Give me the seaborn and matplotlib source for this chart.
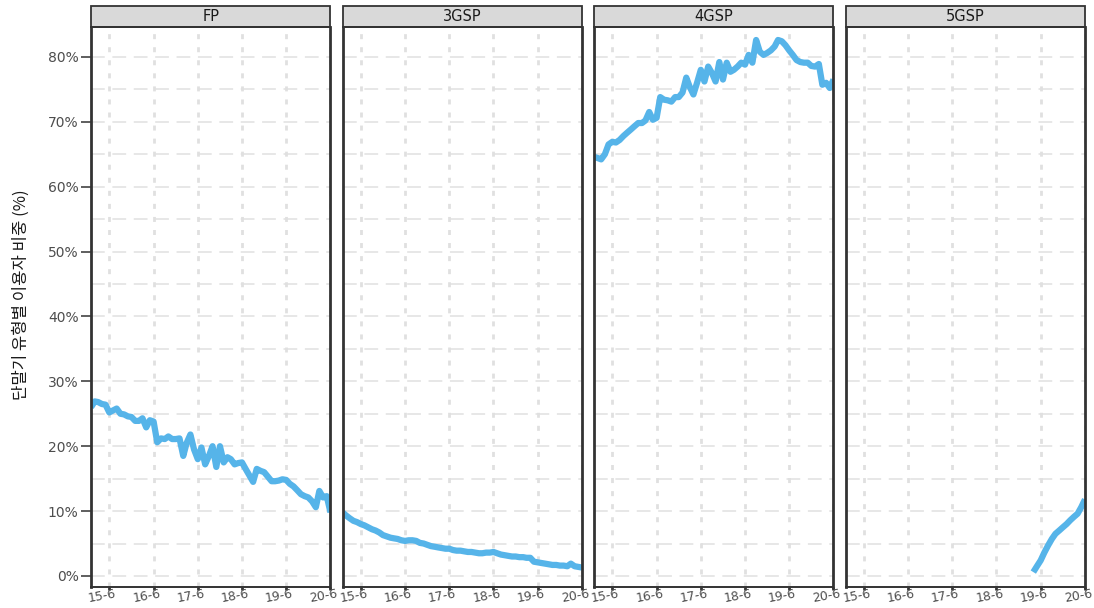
import numpy as np
import pandas as pd
import matplotlib
matplotlib.use("Agg")
import matplotlib.pyplot as plt
import matplotlib.transforms as mtrans
from matplotlib.patches import Rectangle
from matplotlib.ticker import MultipleLocator, FuncFormatter
import seaborn as sns

# ---------------- data ----------------
months = pd.date_range("2015-01-01", "2020-06-01", freq="MS")

fp = [26.0, 26.9, 26.8, 26.5, 26.4, 25.2, 25.5, 25.8, 25.0, 24.9, 24.6, 24.5,
      23.9, 23.9, 24.3, 22.9, 24.0, 23.8, 20.6, 21.2, 21.1, 21.5, 21.1, 21.1,
      21.2, 18.5, 20.5, 21.8, 19.5, 18.0, 19.8, 17.2, 18.5, 20.0, 16.8, 20.0,
      17.5, 18.3, 18.0, 17.2, 17.4, 17.5, 16.5, 15.5, 14.5, 16.5, 16.2, 16.0,
      15.3, 14.6, 14.6, 14.7, 14.9, 14.8, 14.2, 13.8, 13.2, 12.6, 12.3, 12.1,
      11.5, 10.6, 13.1, 12.1, 12.3, 9.8]

g3 = [9.8, 9.3, 8.9, 8.5, 8.3, 8.0, 7.8, 7.5, 7.2, 7.0, 6.7, 6.3,
      6.1, 5.9, 5.8, 5.7, 5.5, 5.4, 5.5, 5.5, 5.4, 5.1, 5.0, 4.8,
      4.6, 4.5, 4.4, 4.3, 4.2, 4.2, 4.0, 3.9, 3.9, 3.8, 3.7, 3.7,
      3.6, 3.5, 3.5, 3.6, 3.6, 3.7, 3.5, 3.3, 3.2, 3.1, 3.0, 3.0,
      2.9, 2.9, 2.8, 2.8, 2.2, 2.1, 2.0, 1.9, 1.8, 1.7, 1.7, 1.6,
      1.6, 1.5, 1.9, 1.5, 1.4, 1.3]

g4 = [64.6, 64.4, 64.2, 65.0, 66.5, 66.9, 66.8, 67.2, 67.8, 68.3, 68.8, 69.3,
      69.8, 69.8, 70.2, 71.5, 70.3, 70.6, 73.8, 73.4, 73.3, 73.1, 73.8, 73.8,
      74.5, 76.8, 75.4, 74.2, 76.0, 78.0, 76.2, 78.5, 77.5, 76.2, 79.2, 76.5,
      79.1, 77.7, 78.0, 78.5, 79.1, 78.8, 80.3, 79.1, 82.6, 80.8, 80.3, 80.6,
      81.0, 81.6, 82.6, 82.4, 81.8, 81.0, 80.3, 79.5, 79.2, 79.1, 79.1, 78.6,
      78.5, 78.9, 75.7, 76.0, 75.2, 76.5]

g5_months = pd.date_range("2019-04-01", "2020-06-01", freq="MS")
g5 = [0.6, 1.5, 2.4, 3.6, 4.7, 5.7, 6.5, 7.0, 7.5, 8.0, 8.6, 9.1, 9.6, 10.6, 11.8]

types = ["FP", "3GSP", "4GSP", "5GSP"]
x_tick_dates = pd.to_datetime(["2015-06-01", "2016-06-01", "2017-06-01",
                               "2018-06-01", "2019-06-01", "2020-06-01"])
x_tick_labels = ["15-6", "16-6", "17-6", "18-6", "19-6", "20-6"]
y_ticks = [0, 10, 20, 30, 40, 50, 60, 70, 80]
y_label = "단말기 유형별 이용자 비중 (%)"

df = pd.concat([
    pd.DataFrame({"date": months, "share": fp, "type": "FP"}),
    pd.DataFrame({"date": months, "share": g3, "type": "3GSP"}),
    pd.DataFrame({"date": months, "share": g4, "type": "4GSP"}),
    pd.DataFrame({"date": g5_months, "share": g5, "type": "5GSP"}),
], ignore_index=True)

# ---------------- style ----------------
sns.set_theme(style="white")
plt.rcParams["font.family"] = ["DejaVu Sans"]

W, H = 1094, 608
g = sns.relplot(data=df, x="date", y="share", col="type", col_order=types,
                kind="line", color="#56B4E9", linewidth=4.5,
                height=5, aspect=0.5,
                facet_kws=dict(sharex=True, sharey=True))
fig = g.figure
fig.set_size_inches(W / 100, H / 100)
fig.subplots_adjust(left=91 / W, right=1085 / W, top=1 - 27 / H,
                    bottom=1 - 587 / H, wspace=12 / 239)
g.set_titles("")
g.set_axis_labels("", "")

panel_h = 587 - 27
ygrid_kw = dict(color="#E0E0E0", linewidth=1.1, linestyle=(0, (9, 5)))
xgrid_kw = dict(color="#E0E0E0", linewidth=2.0, linestyle=(0, (1.8, 2.9)))

for i, (ax, name) in enumerate(zip(g.axes.flat, types)):
    for ln in ax.get_lines():
        ln.set_solid_capstyle("butt")
        ln.set_solid_joinstyle("round")
    ax.set_xlim(months[0], months[-1])
    ax.set_ylim(-1.7, 84.6)
    ax.set_yticks(y_ticks)
    ax.yaxis.set_minor_locator(MultipleLocator(5))
    ax.yaxis.set_major_formatter(FuncFormatter(lambda v, p: f"{v:.0f}%"))
    ax.set_xticks(x_tick_dates)
    ax.set_xticklabels(x_tick_labels, rotation=10, ha="center")
    ax.set_axisbelow(True)
    ax.grid(which="both", axis="y", **ygrid_kw)
    ax.grid(which="major", axis="x", **xgrid_kw)
    for side, sp in ax.spines.items():
        sp.set_visible(True)
        sp.set_color("#333333")
        sp.set_linewidth(2.0 if side in ("left", "right") else 1.4)
    ax.tick_params(which="minor", length=0)
    ax.tick_params(axis="x", which="major", length=2.5, width=2.0, color="#333333",
                   labelsize=9, labelcolor="#4D4D4D", pad=-2, bottom=True)
    if i == 0:
        ax.tick_params(axis="y", which="major", length=7.5, width=1.1,
                       color="#333333", labelsize=10, labelcolor="#4D4D4D",
                       pad=1.5, left=True)
    else:
        ax.tick_params(axis="y", which="major", left=False, labelleft=False)
    off = mtrans.ScaledTranslation(-7 / 100, 0, fig.dpi_scale_trans)
    for lab in ax.get_xticklabels():
        lab.set_transform(lab.get_transform() + off)
    # strip
    sh = 21 / panel_h
    ax.add_patch(Rectangle((0, 1), 1, sh, transform=ax.transAxes, clip_on=False,
                           facecolor="#D9D9D9", edgecolor="#333333", linewidth=1.3))
    ax.text(0.5, 1 + sh / 2, name, transform=ax.transAxes, ha="center",
            va="center", fontsize=10.5, color="#1A1A1A")

fig.text(21 / W, 1 - 295 / H, y_label, rotation=90, ha="center", va="center",
         fontsize=12, color="#1A1A1A",
         family=["Noto Sans CJK KR", "DejaVu Sans"])

fig.savefig("out.png", dpi=100)
